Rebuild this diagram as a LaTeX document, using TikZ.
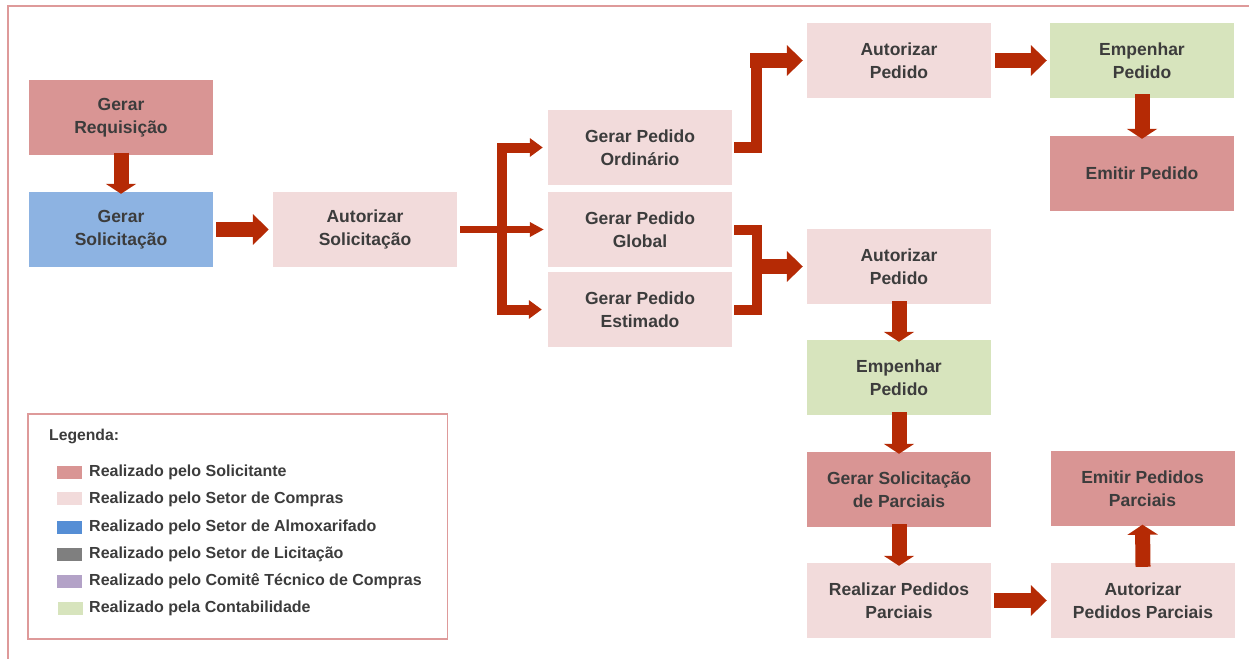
\documentclass[tikz,border=0pt]{standalone}
\usepackage{fontspec}
\setmainfont{Liberation Sans}
\usetikzlibrary{arrows.meta}
\definecolor{csol}{HTML}{D99594}
\definecolor{ccomp}{HTML}{F2DBDB}
\definecolor{calm}{HTML}{8DB3E2}
\definecolor{calmleg}{HTML}{558ED5}
\definecolor{clic}{HTML}{7F7F7F}
\definecolor{ccom}{HTML}{B3A2C7}
\definecolor{ccont}{HTML}{D7E4BD}
\definecolor{carrow}{HTML}{B52A05}
\definecolor{ctxt}{HTML}{3C3C3C}
\definecolor{cframe}{HTML}{DE9A9A}
\begin{document}
\begin{tikzpicture}[x=1pt,y=-1pt,
  box/.style={rectangle, minimum width=184pt, minimum height=75pt, inner sep=0pt, align=center, text=ctxt, font=\bfseries\fontsize{17.5}{22.5}\selectfont},
  hbig/.style={draw=carrow, line width=15pt, -{Triangle[width=30pt,length=16pt]}},
  vbig/.style={draw=carrow, line width=15pt, -{Triangle[width=30pt,length=10pt]}},
  thinbranch/.style={draw=carrow, line width=7pt, -{Triangle[width=14pt,length=14pt]}},
  branch/.style={draw=carrow, line width=10pt, -{Triangle[width=18pt,length=13pt]}},
  bar/.style={draw=carrow, line width=10pt, line cap=rect},
  elbow/.style={draw=carrow, line width=10pt, line join=miter},
  swatch/.style={rectangle, minimum width=25pt, minimum height=12.5pt, inner sep=0pt},
  legtext/.style={anchor=base west, inner sep=0pt, text=ctxt, font=\bfseries\fontsize{16}{19}\selectfont},
  frame/.style={draw=cframe, line width=2pt}
]
\useasboundingbox (0,0) rectangle (1249,658);
\fill[white] (0,0) rectangle (1249,658);
\draw[frame] (7.8,660) -- (7.8,6) -- (1251,6);

% boxes
\node[box, fill=csol]  (req)    at (121,117.5) {Gerar\\Requisição};
\node[box, fill=calm]  (solic)  at (121,229.5) {Gerar\\Solicitação};
\node[box, fill=ccomp] (autsol) at (365,229.5) {Autorizar\\Solicitação};
\node[box, fill=ccomp] (ord)    at (640,147.5) {Gerar Pedido\\Ordinário};
\node[box, fill=ccomp] (glob)   at (640,229.5) {Gerar Pedido\\Global};
\node[box, fill=ccomp] (est)    at (640,309.5) {Gerar Pedido\\Estimado};
\node[box, fill=ccomp] (autp1)  at (899,60.5)  {Autorizar\\Pedido};
\node[box, fill=ccont] (emp1)   at (1142,60.5) {Empenhar\\Pedido};
\node[box, fill=csol]  (emit1)  at (1142,173.5) {Emitir Pedido};
\node[box, fill=ccomp] (autp2)  at (899,266.5) {Autorizar\\Pedido};
\node[box, fill=ccont] (emp2)   at (899,377.5) {Empenhar\\Pedido};
\node[box, fill=csol]  (gsp)    at (899,489.5) {Gerar Solicitação\\de Parciais};
\node[box, fill=csol]  (epp)    at (1142.5,488.5) {Emitir Pedidos\\Parciais};
\node[box, fill=ccomp] (rpp)    at (899,600.5) {Realizar Pedidos\\Parciais};
\node[box, fill=ccomp] (app)    at (1143,600.5) {Autorizar\\Pedidos Parciais};

% simple arrows
\draw[vbig] ([yshift=2.5pt]req.south) -- ([yshift=-2pt]solic.north);
\draw[hbig] ([xshift=3pt]solic.east) -- ([xshift=-4pt]autsol.west);
\draw[hbig] ([xshift=4pt]autp1.east) -- ([xshift=-3pt]emp1.west);
\draw[vbig] ([yshift=4pt]emp1.south) -- ([yshift=-3pt]emit1.north);
\draw[vbig] ([yshift=3pt]autp2.south) -- ([yshift=-2pt]emp2.north);
\draw[vbig] ([yshift=3pt]emp2.south) -- ([yshift=-2pt]gsp.north);
\draw[vbig] ([yshift=3pt]gsp.south) -- ([yshift=-3pt]rpp.north);
\draw[hbig] ([xshift=3pt]rpp.east) -- ([xshift=-4pt]app.west);
\draw[vbig] ([yshift=-4pt]app.north) -- ([yshift=1.5pt]epp.south);

% branch from Autorizar Solicitacao
\coordinate (j) at (502,229.5);
\draw[bar] (j |- ord.west) -- (j |- est.west);
\draw[thinbranch] ([xshift=3pt]autsol.east) -- ([xshift=-4pt]glob.west);
\draw[branch] (j |- ord.west) -- ([xshift=-5pt]ord.west);
\draw[branch] (j |- est.west) -- ([xshift=-6pt]est.west);

% Ordinario -> Autorizar Pedido (top)
\coordinate (k) at (756,60.5);
\draw[elbow, line width=11pt] ([xshift=2pt]ord.east) -| (k);
\draw[hbig] ([xshift=-6pt]k) -- ([xshift=-4pt]autp1.west);

% Global / Estimado -> Autorizar Pedido (middle)
\coordinate (m) at (757,266.5);
\draw[elbow] ([xshift=2pt]glob.east) -| (m) |- ([xshift=2pt]est.east);
\draw[hbig] (m) -- ([xshift=-4pt]autp2.west);

% legend
\node[draw=cframe, line width=1.3pt, minimum width=419.5pt, minimum height=225pt, inner sep=0pt] (legend) at (237.8,526.5) {};
\node[legtext, font=\bfseries\fontsize{15.7}{19}\selectfont] (legtitle) at (49,440) {Legenda:};
\node[swatch, fill=csol]    (s1) at (69.5,472.3) {};
\node[swatch, fill=ccomp]   (s2) at (69.5,498.6) {};
\node[swatch, fill=calmleg] (s3) at (69.5,527.5) {};
\node[swatch, fill=clic]    (s4) at (69.5,554.7) {};
\node[swatch, fill=ccom]    (s5) at (69.5,581.3) {};
\node[swatch, fill=ccont]   (s6) at (70,608.3) {};
\node[legtext] (t1) at (89,476.6) {Realizado pelo Solicitante};
\node[legtext] (t2) at (89,503) {Realizado pelo Setor de Compras};
\node[legtext] (t3) at (89,531.6) {Realizado pelo Setor de Almoxarifado};
\node[legtext] (t4) at (89,558.9) {Realizado pelo Setor de Licitação};
\node[legtext] (t5) at (89,585.6) {Realizado pelo Comitê Técnico de Compras};
\node[legtext] (t6) at (89,612.6) {Realizado pela Contabilidade};
\end{tikzpicture}
\end{document}
